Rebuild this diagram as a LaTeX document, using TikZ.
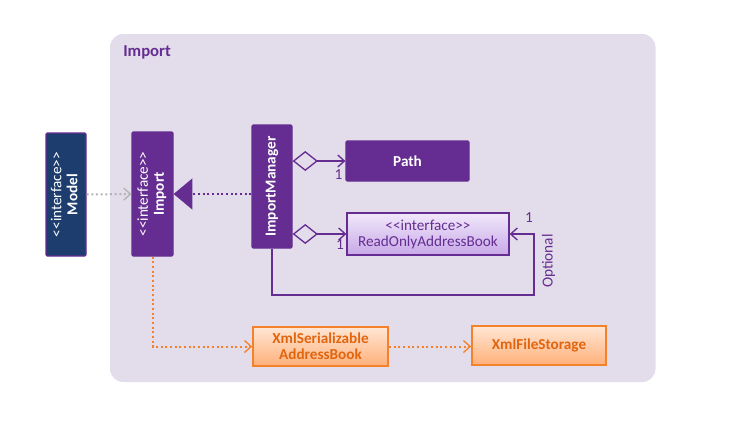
\documentclass[tikz,border=0pt]{standalone}
\usepackage{fontspec}
\setmainfont{Carlito}
\usetikzlibrary{arrows.meta}
\definecolor{pkgbg}{HTML}{E3DCEB}
\definecolor{umlpurple}{HTML}{652D91}
\definecolor{modelblue}{HTML}{1D3D6E}
\definecolor{orangeline}{HTML}{F5822A}
\definecolor{orangetext}{HTML}{E0650F}
\definecolor{orangetop}{HTML}{FFE6D4}
\definecolor{orangebot}{HTML}{FFB07A}
\definecolor{lilactop}{HTML}{F1E8FA}
\definecolor{lilacbot}{HTML}{C7A8E8}
\definecolor{grayline}{HTML}{B3B3B3}
\tikzset{
  every node/.style={font=\fontsize{11.4}{13}\selectfont},
  darkbox/.style={draw=umlpurple, fill=umlpurple, text=white, line width=0.9pt, rounded corners=1pt, inner sep=0pt, align=center},
  lilacbox/.style={draw=umlpurple, top color=lilactop, bottom color=lilacbot, text=umlpurple, line width=1pt, inner sep=0pt, align=center},
  orangebox/.style={draw=orangeline, top color=orangetop, bottom color=orangebot, text=orangetext, line width=1.3pt, inner sep=0pt, align=center, font=\fontsize{11.4}{13}\selectfont\bfseries},
  dotline/.style={line width=1.5pt, dash pattern=on 1.5pt off 2pt},
  openhead/.style={-{Straight Barb[length=5pt,width=9pt,line width=1pt]}},
  aggr/.style={line width=1pt, umlpurple, {Diamond[open,length=19pt,width=15pt,line width=1pt]}-{Straight Barb[length=5pt,width=9pt,line width=1pt]}},
  mult/.style={text=umlpurple, inner sep=0pt, font=\fontsize{11.5}{13}\selectfont},
}
\newcommand{\stereo}{<{}<interface>{}>}
\newcommand{\vtext}[2]{\rotatebox{90}{\begin{tabular}{@{}c@{}}#1\\[-1pt]#2\end{tabular}}}
\begin{document}
\begin{tikzpicture}[x=0.75pt,y=-0.75pt]
\useasboundingbox (0,0) rectangle (736,422);
% package
\fill[pkgbg, rounded corners=10pt] (110,34) rectangle (655.5,382);
\node[anchor=west, text=umlpurple, font=\fontsize{12.5}{14}\selectfont\bfseries, inner sep=0pt] (pkglabel) at (123,52) {Import};
% boxes
\node[darkbox, fill=modelblue, minimum width=30pt, minimum height=92.25pt] (model) at (66,194.5) {\vtext{\stereo}{\textbf{Model}}};
\node[darkbox, minimum width=30.75pt, minimum height=93pt] (imp) at (152.5,194) {\vtext{\stereo}{\textbf{Import}}};
\node[darkbox, minimum width=30pt, minimum height=92.25pt] (im) at (272,186.5) {\rotatebox{90}{\textbf{ImportManager}}};
\node[darkbox, minimum width=92.25pt, minimum height=30pt, font=\fontsize{11.4}{13}\selectfont\bfseries] (path) at (407.5,161) {Path};
\node[lilacbox, minimum width=121.5pt, minimum height=31.5pt] (roab) at (428,234) {\stereo\\[-1pt]ReadOnlyAddressBook};
\node[orangebox, minimum width=101.25pt, minimum height=29.25pt] (xs) at (320.5,346.5) {XmlSerializable\\[-1pt]AddressBook};
\node[orangebox, minimum width=100.5pt, minimum height=29.25pt] (xfs) at (539,345.5) {XmlFileStorage};
% connectors
\draw[grayline, dotline, openhead] (model.east) -- (imp.west);
\draw[umlpurple, dotline, -{Triangle[length=14pt,width=23pt]}] (im.west |- imp.east) -- (imp.east);
\draw[aggr] (im.east |- path.west) -- (path.west);
\draw[aggr] (im.east |- roab.west) -- (roab.west);
\coordinate (loopc) at (534,295);
\draw[umlpurple, line width=1pt, -{Straight Barb[length=5pt,width=9pt,line width=1pt]}] (im.south) |- (loopc) |- (roab.east);
\draw[orangeline, dotline, openhead] (imp.south) |- (xs.west);
\draw[orangeline, dotline, openhead] (xs.east) -- (xs.east -| xfs.west);
% labels
\node[mult] (m1) at (338.5,174.5) {1};
\node[mult] (m2) at (340,245) {1};
\node[mult] (m3) at (529,218) {1};
\node[mult, rotate=90] (opt) at (548.5,261) {Optional};
\end{tikzpicture}
\end{document}
